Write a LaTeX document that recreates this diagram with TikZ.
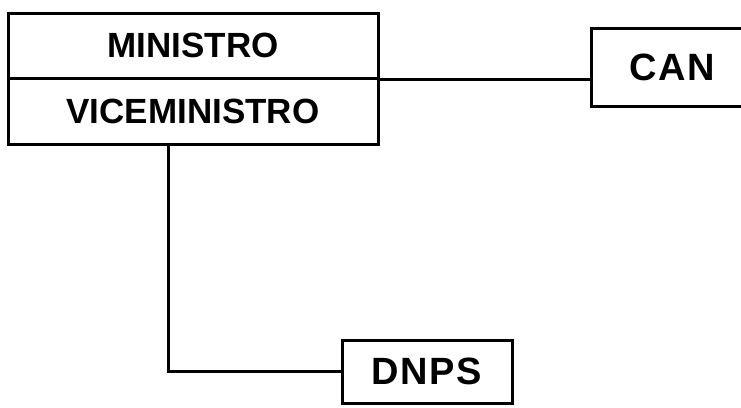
\documentclass[tikz,border=0pt]{standalone}
\usepackage{fontspec}
\setmainfont{Liberation Sans}
\newfontfamily\widefont[LetterSpace=4]{Liberation Sans}
\usepackage{tikz}
\usetikzlibrary{positioning}

\begin{document}
\begin{tikzpicture}[x=1pt, y=-1pt, line width=3pt,
  every node/.style={font=\bfseries\fontsize{35}{38}\selectfont},
  orgbox/.style={draw, line width=3pt, inner sep=0pt},
  widelabel/.style={font=\widefont\bfseries\fontsize{38}{42}\selectfont}]
\useasboundingbox (0,0) rectangle (741,407);
% main office, two rows
\node[orgbox, minimum width=370pt, minimum height=65pt] (ministro) at (193,45.5) {MINISTRO};
\node[orgbox, minimum width=370pt, minimum height=66pt] (vice) at (193,111) {VICEMINISTRO};
% side and lower units
\node[orgbox, widelabel, minimum width=162pt, minimum height=78pt] (can) at (672,67) {CAN};
\node[orgbox, widelabel, minimum width=170pt, minimum height=63pt] (dnps) at (427,371.5) {DNPS};
\coordinate (drop) at (168,144);
\draw (ministro.south east) -- (ministro.south east -| can.west);
\draw (drop) |- (dnps.west);
\end{tikzpicture}
\end{document}
